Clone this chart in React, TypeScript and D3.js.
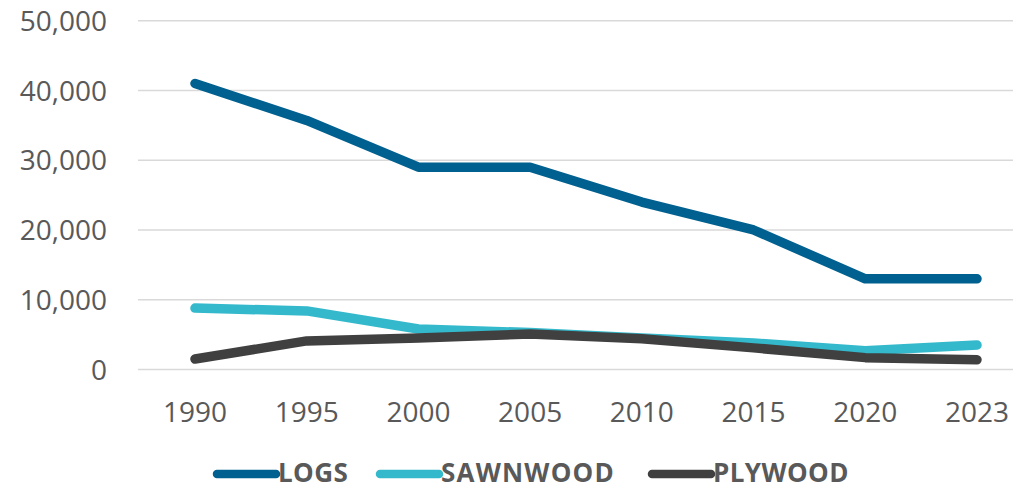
import React, { useEffect, useRef } from "react";
import * as d3 from "d3";

const years = ["1990", "1995", "2000", "2005", "2010", "2015", "2020", "2023"];
const logs = [41000, 35700, 29000, 29000, 24000, 20000, 13000, 13000];
const sawnwood = [8800, 8400, 5800, 5300, 4500, 3800, 2700, 3500];
const plywood = [1500, 4100, 4500, 5100, 4400, 3100, 1700, 1400];
const yTicks = [0, 10000, 20000, 30000, 40000, 50000];

const seriesNames = ["LOGS", "SAWNWOOD", "PLYWOOD"];
const seriesColors = ["#00608F", "#33B9CB", "#404040"];

const W = 1013;
const H = 488;

export default function App() {
  const ref = useRef<SVGSVGElement>(null);

  useEffect(() => {
    const svg = d3.select(ref.current);
    svg.selectAll("*").remove();

    const font = "'Open Sans', sans-serif";
    const textColor = "#595959";

    const x = d3.scalePoint<string>().domain(years).range([195, 977]);
    const y = d3.scaleLinear().domain([0, 50000]).range([369.5, 20.7]);

    svg
      .append("g")
      .selectAll("line")
      .data(yTicks)
      .join("line")
      .attr("x1", 138)
      .attr("x2", W)
      .attr("y1", (d) => y(d))
      .attr("y2", (d) => y(d))
      .attr("stroke", "#d9d9d9")
      .attr("stroke-width", 1.5);

    const fmt = d3.format(",");
    svg
      .append("g")
      .selectAll("text")
      .data(yTicks)
      .join("text")
      .attr("x", 107)
      .attr("y", (d) => y(d))
      .attr("dy", "0.36em")
      .attr("text-anchor", "end")
      .attr("font-family", font)
      .attr("font-size", 28)
      .attr("fill", textColor)
      .text((d) => fmt(d));

    svg
      .append("g")
      .selectAll("text")
      .data(years)
      .join("text")
      .attr("x", (d) => x(d)!)
      .attr("y", 422)
      .attr("text-anchor", "middle")
      .attr("font-family", font)
      .attr("font-size", 28)
      .attr("fill", textColor)
      .text((d) => d);

    const allSeries = [logs, sawnwood, plywood];
    const line = d3
      .line<number>()
      .x((_, i) => x(years[i])!)
      .y((d) => y(d));

    allSeries.forEach((vals, i) => {
      svg
        .append("path")
        .datum(vals)
        .attr("d", line)
        .attr("fill", "none")
        .attr("stroke", seriesColors[i])
        .attr("stroke-width", 9.5)
        .attr("stroke-linejoin", "round")
        .attr("stroke-linecap", "round");
    });

    const legend = svg.append("g");
    const startXs = [217, 380, 652];
    seriesNames.forEach((name, i) => {
      const g = legend.append("g");
      g.append("line")
        .attr("x1", startXs[i])
        .attr("x2", startXs[i] + 59)
        .attr("y1", 474)
        .attr("y2", 474)
        .attr("stroke", seriesColors[i])
        .attr("stroke-width", 8.5)
        .attr("stroke-linecap", "round");
      g.append("text")
        .attr("x", startXs[i] + 61)
        .attr("y", 481.5)
        .attr("font-family", font)
        .attr("font-weight", 700)
        .attr("font-size", 26)
        .attr("letter-spacing", i === 1 ? 1.2 : 0.4)
        .attr("fill", textColor)
        .text(name);
    });
  }, []);

  return (
    <svg
      ref={ref}
      width={W}
      height={H}
      style={{ position: "absolute", left: 0, top: 0, background: "#fff" }}
    />
  );
}
